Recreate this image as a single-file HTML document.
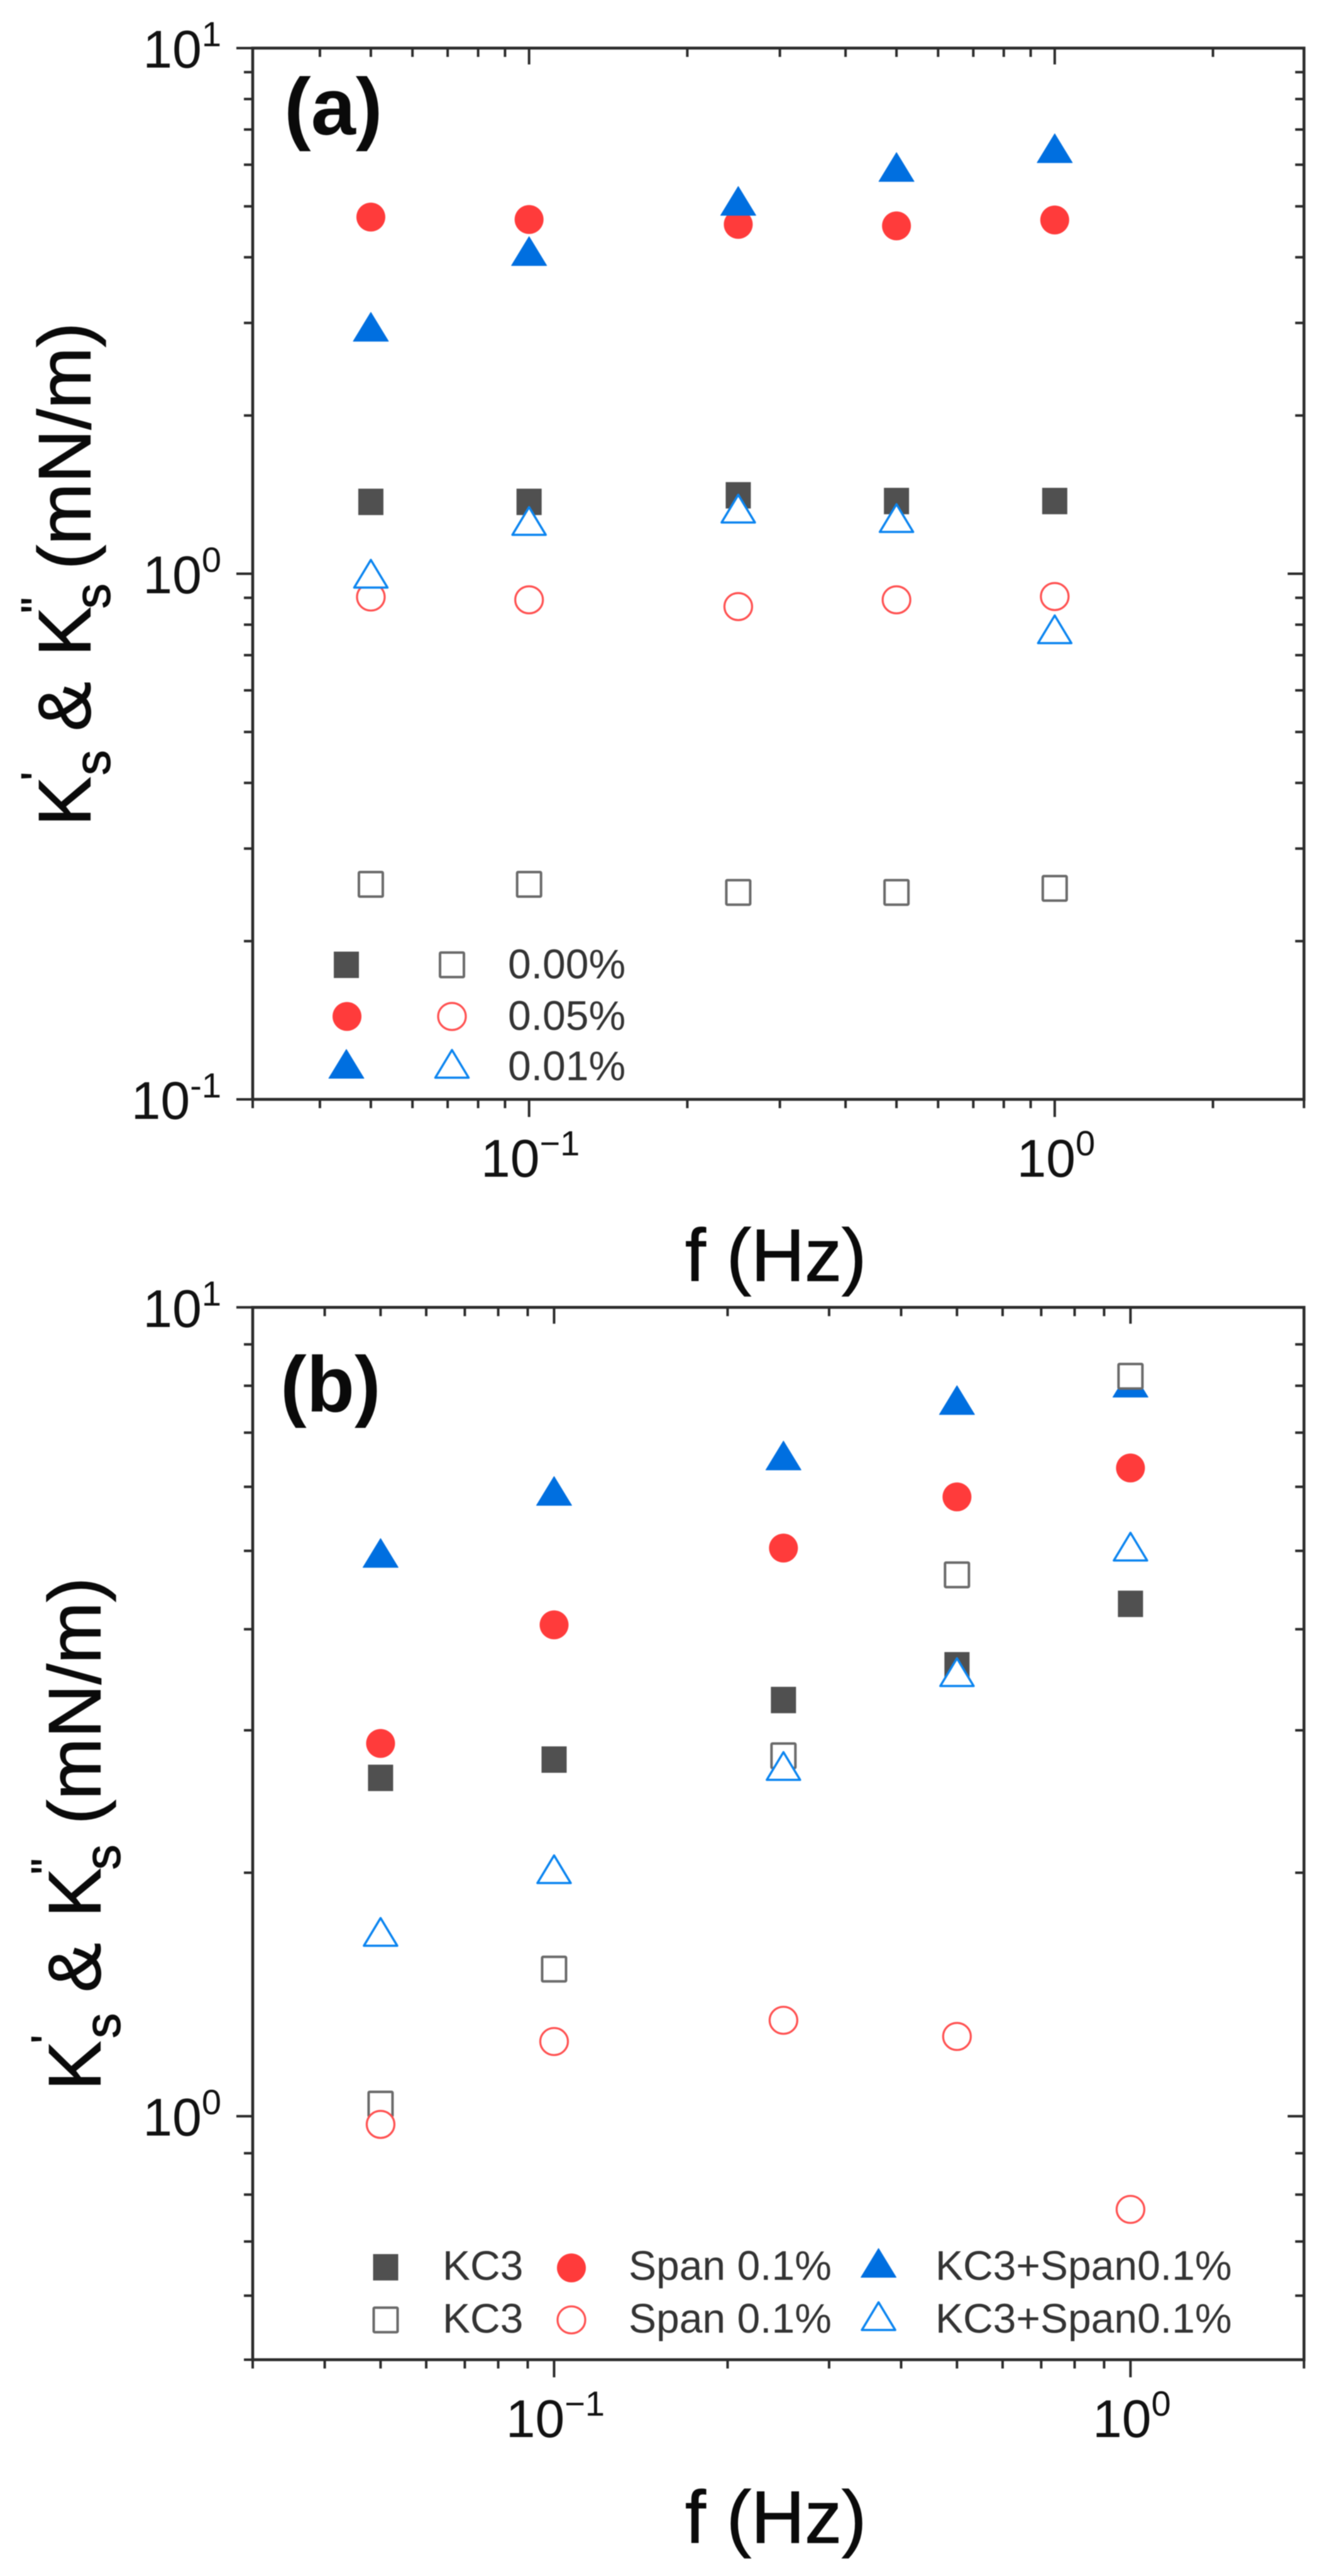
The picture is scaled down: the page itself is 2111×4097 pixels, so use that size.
<!DOCTYPE html>
<html lang="en">
<head>
<meta charset="utf-8">
<title>Ks' and Ks'' vs frequency</title>
<style>
html,body{margin:0;padding:0;background:#fff;}
body{width:2111px;height:4097px;overflow:hidden;}
svg{display:block;filter:blur(0.7px);}
text{font-family:"Liberation Sans",Arial,sans-serif;}
</style>
</head>
<body>
<svg id="chart" xmlns="http://www.w3.org/2000/svg" width="2111" height="4097" viewBox="0 0 2111 4097">
  <rect x="0" y="0" width="2111" height="4097" fill="#ffffff"/>

  <g id="panel-a">
    <g transform="translate(143.5 1305) rotate(-90)" fill="#0a0a0a" stroke="#0a0a0a" stroke-width="1.2">
      <text x="-9" y="0" font-size="118">K</text>
      <text x="64" y="-61" font-size="70">'</text>
      <text x="72" y="31" font-size="80">s</text>
      <text x="142" y="0" font-size="118">&amp;</text>
      <text x="261" y="0" font-size="118">K</text>
      <text x="330" y="-61" font-size="70">"</text>
      <text x="337" y="31" font-size="80">s</text>
      <text x="399" y="0" font-size="118">(mN/m)</text>
    </g>
    <text x="1090" y="2037" font-size="118" fill="#0a0a0a" stroke="#0a0a0a" stroke-width="1.2">f (Hz)</text>
    <text x="452" y="214" font-size="128" font-weight="700" fill="#0a0a0a">(a)</text>
    <g fill="#333333" font-size="66">
      <text x="808" y="1556">0.00%</text>
      <text x="808" y="1638">0.05%</text>
      <text x="808" y="1718">0.01%</text>
    </g>
  </g>

  <g id="panel-b">
    <g transform="translate(159.4 3315.8) rotate(-90)" fill="#0a0a0a" stroke="#0a0a0a" stroke-width="1.2">
      <text x="-9" y="0" font-size="118">K</text>
      <text x="66" y="-61" font-size="70">'</text>
      <text x="74" y="31" font-size="80">s</text>
      <text x="147" y="0" font-size="118">&amp;</text>
      <text x="266" y="0" font-size="118">K</text>
      <text x="335" y="-61" font-size="70">"</text>
      <text x="342" y="31" font-size="80">s</text>
      <text x="414" y="0" font-size="118">(mN/m)</text>
    </g>
    <text x="1090" y="4044" font-size="118" fill="#0a0a0a" stroke="#0a0a0a" stroke-width="1.2">f (Hz)</text>
    <text x="446" y="2245" font-size="125" font-weight="700" fill="#0a0a0a">(b)</text>
    <g fill="#333333" font-size="66">
      <text x="704" y="3626">KC3</text>
      <text x="704" y="3710">KC3</text>
      <text x="1000" y="3626">Span 0.1%</text>
      <text x="1000" y="3710">Span 0.1%</text>
      <text x="1488" y="3626">KC3+Span0.1%</text>
      <text x="1488" y="3710">KC3+Span0.1%</text>
    </g>
  </g>
</svg>

<script>
// ---------- Panel (a) data ----------
const aFrequency = [0.05, 0.1, 0.25, 0.5, 1];
const aGrayFilled = [1.37, 1.37, 1.41, 1.375, 1.375];
const aRedFilled = [4.77, 4.72, 4.62, 4.59, 4.71];
const aBlueFilled = [2.95, 4.11, 5.12, 5.94, 6.45];
const aGrayOpen = [0.2565, 0.2565, 0.2476, 0.2476, 0.252];
const aRedOpen = [0.903, 0.892, 0.866, 0.892, 0.905];
const aBlueOpen = [1.00, 1.26, 1.33, 1.276, 0.784];
const aXDomain = [0.0298, 2.98];
const aYDomain = [0.1, 10];
const aXMajor = [0.1, 1];
const aXMinor = [0.0298, 0.04, 0.05, 0.06, 0.07, 0.08, 0.09, 0.2, 0.3, 0.4, 0.5, 0.6, 0.7, 0.8, 0.9, 2, 2.98];
const aYMajor = [0.1, 1, 10];
const aYMinor = [0.2, 0.3, 0.4, 0.5, 0.6, 0.7, 0.8, 0.9, 2, 3, 4, 5, 6, 7, 8, 9];
const aXLabels = ['\u22121', '0'];
const aYLabels = ['-1', '0', '1'];

// ---------- Panel (b) data ----------
const bFrequency = [0.05, 0.1, 0.25, 0.5, 1];
const bGrayFilled = [2.62, 2.76, 3.27, 3.61, 4.30];
const bRedFilled = [2.89, 4.05, 5.04, 5.83, 6.33];
const bBlueFilled = [4.97, 5.93, 6.56, 7.68, 8.07];
const bGrayOpen = [1.035, 1.52, 2.79, 4.67, 8.22];
const bRedOpen = [0.977, 1.237, 1.314, 1.255, 0.767];
const bBlueOpen = [1.69, 2.02, 2.71, 3.54, 5.06];
const bXDomain = [0.03, 2];
const bYDomain = [0.5, 10];
const bXMajor = [0.1, 1];
const bXMinor = [0.03, 0.04, 0.05, 0.06, 0.07, 0.08, 0.09, 0.2, 0.3, 0.4, 0.5, 0.6, 0.7, 0.8, 0.9, 2];
const bYMajor = [1, 10];
const bYMinor = [0.5, 0.6, 0.7, 0.8, 0.9, 2, 3, 4, 5, 6, 7, 8, 9];
const bXLabels = ['\u22121', '0'];
const bYLabels = ['0', '1'];

const SVG_NS = 'http://www.w3.org/2000/svg';
const AXIS_COLOR = '#2b2b2b';
const GRAY = '#505050';
const GRAY_LINE = '#6a6a6a';
const RED = '#ff3b3b';
const RED_LINE = '#ff5050';
const BLUE = '#006fe0';
const BLUE_LINE = '#0a84f0';

function svgEl(tag, attrs, parent) {
  const el = document.createElementNS(SVG_NS, tag);
  for (const k in attrs) el.setAttribute(k, attrs[k]);
  parent.appendChild(el);
  return el;
}

function logScale(domain, r0, r1) {
  const a = Math.log10(domain[0]);
  const b = Math.log10(domain[1]);
  return function (v) { return r0 + (Math.log10(v) - a) / (b - a) * (r1 - r0); };
}

function marker(parent, shape, open, cx, cy, name) {
  const g = svgEl('g', {}, parent);
  
  
  if (shape === 'square') {
    if (open) {
      svgEl('rect', { x: cx - 19, y: cy - 19.5, width: 38, height: 39, fill: '#fff', stroke: GRAY_LINE, 'stroke-width': 4, rx: 1.5 }, g);
    } else {
      svgEl('rect', { x: cx - 20, y: cy - 21, width: 40, height: 42, fill: GRAY }, g);
    }
  } else if (shape === 'circle') {
    if (open) {
      svgEl('ellipse', { cx: cx, cy: cy, rx: 22, ry: 21.5, fill: '#fff', stroke: RED_LINE, 'stroke-width': 3.2 }, g);
    } else {
      svgEl('ellipse', { cx: cx, cy: cy, rx: 23, ry: 23, fill: RED }, g);
    }
  } else {
    const hw = open ? 26.5 : 28;
    const hh = open ? 22 : 23;
    const pts = cx + ',' + (cy - hh) + ' ' + (cx - hw) + ',' + (cy + hh) + ' ' + (cx + hw) + ',' + (cy + hh);
    if (open) {
      svgEl('polygon', { points: pts, fill: '#fff', stroke: BLUE_LINE, 'stroke-width': 3.5, 'stroke-linejoin': 'round' }, g);
    } else {
      svgEl('polygon', { points: pts, fill: BLUE, stroke: BLUE, 'stroke-width': 1, 'stroke-linejoin': 'round' }, g);
    }
  }
}

function tickLine(parent, x1, y1, x2, y2, name) {
  const l = svgEl('line', { x1: x1, y1: y1, x2: x2, y2: y2, stroke: AXIS_COLOR, 'stroke-width': 4 }, parent);
  
  
}

function tenLabel(parent, x, y, anchor, exponent, name) {
  const t = svgEl('text', { x: x, y: y, 'text-anchor': anchor, 'font-size': 84, fill: '#111111' }, parent);
  
  
  t.appendChild(document.createTextNode('10'));
  const s = svgEl('tspan', { dy: -34, 'font-size': 56 }, t);
  s.textContent = exponent;
}

function drawAxes(parent, box, sx, sy, cfg) {
  const g = svgEl('g', {}, parent);
  
  
  svgEl('rect', { x: box.l, y: box.t, width: box.r - box.l, height: box.b - box.t, fill: 'none', stroke: AXIS_COLOR, 'stroke-width': 4.6 }, g);
  cfg.xMajor.forEach(function (v, i) {
    const x = sx(v);
    tickLine(g, x, box.b, x, box.b + 28, cfg.id + '-x-major-tick');
    tickLine(g, x, box.t, x, box.t + 26, cfg.id + '-x-major-tick-top');
    tenLabel(g, x + 2, box.b + 123, 'middle', cfg.xLabels[i], cfg.id + '-x-tick-label');
  });
  cfg.xMinor.forEach(function (v) {
    const x = sx(v);
    tickLine(g, x, box.b, x, box.b + 14, cfg.id + '-x-minor-tick');
    tickLine(g, x, box.t, x, box.t + 14, cfg.id + '-x-minor-tick-top');
  });
  cfg.yMajor.forEach(function (v, i) {
    const y = sy(v);
    tickLine(g, box.l - 26, y, box.l, y, cfg.id + '-y-major-tick');
    tickLine(g, box.r - 26, y, box.r, y, cfg.id + '-y-major-tick-right');
    tenLabel(g, 352, y + 31, 'end', cfg.yLabels[i], cfg.id + '-y-tick-label');
  });
  cfg.yMinor.forEach(function (v) {
    const y = sy(v);
    tickLine(g, box.l - 14, y, box.l, y, cfg.id + '-y-minor-tick');
    tickLine(g, box.r - 14, y, box.r, y, cfg.id + '-y-minor-tick-right');
  });
}

function drawSeries(parent, sx, sy, freq, values, shape, open, name) {
  const g = svgEl('g', {}, parent);
  
  
  values.forEach(function (v, i) {
    marker(g, shape, open, sx(freq[i]), sy(v), name + '-point');
  });
}

// ---------- Panel (a) ----------
const panelA = document.getElementById('panel-a');
const boxA = { l: 402, r: 2074.4, t: 76.5, b: 1748.5 };
const sxA = logScale(aXDomain, boxA.l, boxA.r);
const syA = logScale(aYDomain, boxA.b, boxA.t);
drawAxes(panelA, boxA, sxA, syA, { id: 'panel-a', xMajor: aXMajor, xMinor: aXMinor, yMajor: aYMajor, yMinor: aYMinor, xLabels: aXLabels, yLabels: aYLabels });
drawSeries(panelA, sxA, syA, aFrequency, aGrayFilled, 'square', false, 'series-gray-filled');
drawSeries(panelA, sxA, syA, aFrequency, aRedFilled, 'circle', false, 'series-red-filled');
drawSeries(panelA, sxA, syA, aFrequency, aBlueFilled, 'triangle', false, 'series-blue-filled');
drawSeries(panelA, sxA, syA, aFrequency, aGrayOpen, 'square', true, 'series-gray-open');
drawSeries(panelA, sxA, syA, aFrequency, aRedOpen, 'circle', true, 'series-red-open');
drawSeries(panelA, sxA, syA, aFrequency, aBlueOpen, 'triangle', true, 'series-blue-open');
marker(panelA, 'square', false, 551, 1534.5, 'legend-marker-gray-filled');
marker(panelA, 'square', true, 719, 1534.5, 'legend-marker-gray-open');
marker(panelA, 'circle', false, 552, 1616.6, 'legend-marker-red-filled');
marker(panelA, 'circle', true, 719, 1616.6, 'legend-marker-red-open');
marker(panelA, 'triangle', false, 551, 1692, 'legend-marker-blue-filled');
marker(panelA, 'triangle', true, 719, 1692, 'legend-marker-blue-open');

// ---------- Panel (b) ----------
const panelB = document.getElementById('panel-b');
const boxB = { l: 402, r: 2074.4, t: 2079.3, b: 3753 };
const sxB = logScale(bXDomain, boxB.l, boxB.r);
const syB = logScale(bYDomain, boxB.b, boxB.t);
drawAxes(panelB, boxB, sxB, syB, { id: 'panel-b', xMajor: bXMajor, xMinor: bXMinor, yMajor: bYMajor, yMinor: bYMinor, xLabels: bXLabels, yLabels: bYLabels });
drawSeries(panelB, sxB, syB, bFrequency, bGrayFilled, 'square', false, 'series-kc3-filled');
drawSeries(panelB, sxB, syB, bFrequency, bRedFilled, 'circle', false, 'series-span-filled');
drawSeries(panelB, sxB, syB, bFrequency, bBlueFilled, 'triangle', false, 'series-mix-filled');
drawSeries(panelB, sxB, syB, bFrequency, bGrayOpen, 'square', true, 'series-kc3-open');
drawSeries(panelB, sxB, syB, bFrequency, bRedOpen, 'circle', true, 'series-span-open');
drawSeries(panelB, sxB, syB, bFrequency, bBlueOpen, 'triangle', true, 'series-mix-open');
marker(panelB, 'square', false, 613.5, 3606, 'legend-marker-kc3-filled');
marker(panelB, 'square', true, 613.5, 3689.7, 'legend-marker-kc3-open');
marker(panelB, 'circle', false, 909, 3607, 'legend-marker-span-filled');
marker(panelB, 'circle', true, 909, 3689.7, 'legend-marker-span-open');
marker(panelB, 'triangle', false, 1397.6, 3599, 'legend-marker-mix-filled');
marker(panelB, 'triangle', true, 1397.6, 3683.7, 'legend-marker-mix-open');
</script>
</body>
</html>
